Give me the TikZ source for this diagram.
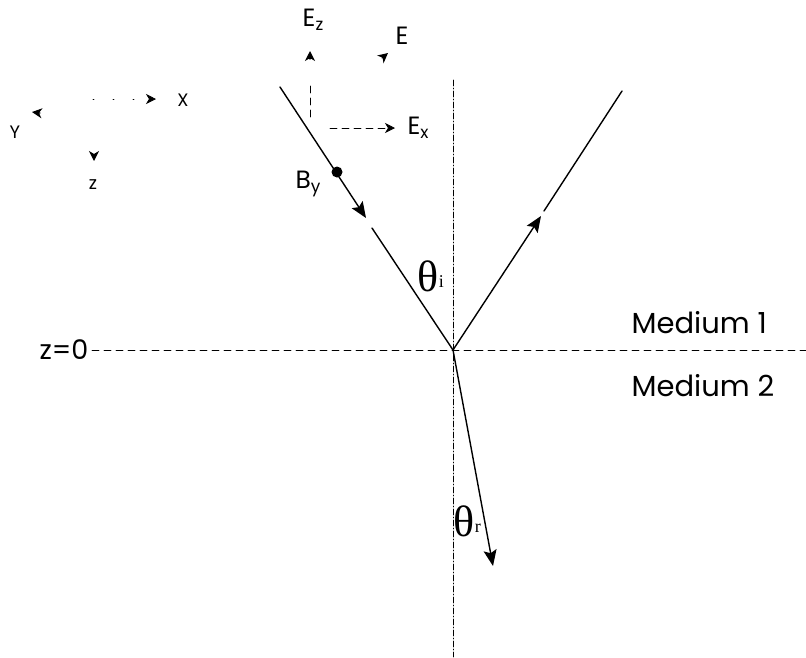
\documentclass[tikz,border=0pt]{standalone}
\usepackage{fontspec}
\setmainfont{Poppins}
\newfontfamily\griego{Liberation Serif}
\usetikzlibrary{arrows.meta}
\newcommand{\indice}[1]{\raisebox{-0.15em}{\fontsize{17}{17}\selectfont #1}}

\begin{document}
\begin{tikzpicture}[x=1pt, y=-1pt, line width=1.3pt, line cap=round,
    >={Stealth[length=16pt,width=13pt,inset=3pt]},
    punta/.style={-{Stealth[length=10pt,width=10pt,inset=3pt]}},
    rayo/.style={line width=1.4pt},
    guia/.style={line width=0.7pt, dash pattern=on 7pt off 5pt},
    normal/.style={line width=0.8pt, dash pattern=on 6pt off 2pt on 1pt off 2pt},
    etiqueta/.style={inner sep=0pt, font=\fontsize{29}{32}\selectfont},
    campo/.style={inner sep=0pt, font=\fontsize{25}{28}\selectfont},
    chica/.style={inner sep=0pt, font=\fontsize{18}{19}\selectfont},
    angulo/.style={inner sep=0pt, font=\griego\fontsize{44}{46}\selectfont},
    sub/.style={inner sep=0pt, anchor=south west, font=\griego\fontsize{18}{18}\selectfont}]
  \useasboundingbox (0,0) rectangle (806,657);
  % el punto de incidencia y la normal
  \coordinate (O) at (453,350);
  \coordinate (nArriba) at (453,80);
  \coordinate (nAbajo) at (453,657);
  \draw[normal] (nArriba) -- (nAbajo);
  % la frontera z=0
  \node[etiqueta, anchor=east, font=\fontsize{27}{30}\selectfont] (zcero) at (89,350) {z=0};
  \coordinate (fin) at (806,350);
  \draw[guia] (zcero.east) ++(3,0) -- (fin);
  \node[etiqueta, anchor=west] (med1) at (631,323) {Medium 1};
  \node[etiqueta, anchor=west] (med2) at (631,386) {Medium 2};
  % rayo incidente, con la flecha a medio camino
  \coordinate (inc0) at (280,87);
  \coordinate (inc1) at (366,218);
  \coordinate (inc2) at (372,228);
  \draw[rayo, ->] (inc0) -- (inc1);
  \draw[rayo] (inc2) -- (O);
  \node[angulo] (thi) at (428,276) {θ};
  \node[sub] at ([xshift=-1pt,yshift=4pt]thi.south east) {i};
  % rayo reflejado
  \coordinate (ref1) at (541,216);
  \coordinate (ref2) at (544,211);
  \coordinate (ref3) at (622,91);
  \draw[rayo, ->] (O) -- (ref1);
  \draw[rayo] (ref2) -- (ref3);
  % rayo transmitido
  \coordinate (tra) at (493,566);
  \draw[rayo, ->] (O) -- (tra);
  \node[angulo] (thr) at (464,521) {θ};
  \node[sub] at ([xshift=-1pt,yshift=4pt]thr.south east) {r};
  % los campos sobre el rayo incidente
  \fill (337,172) circle (5.5);
  \node[campo] (By) at (308,184) {B\indice{y}};
  \coordinate (ez0) at (310,117);
  \coordinate (ez1) at (310,86);
  \coordinate (ez2) at (310,51);
  \draw[guia] (ez0) -- (ez1);
  \draw[punta] (ez2) ++(0,8) -- (ez2);
  \node[campo] (Ez) at (313,20) {E\indice{z}};
  \coordinate (ex0) at (330,128);
  \coordinate (ex1) at (395,128);
  \draw[guia, punta] (ex0) -- (ex1);
  \node[campo] (Ex) at (418,128) {E\indice{x}};
  \coordinate (e1) at (388,53);
  \draw[punta] (e1) ++(-6,5) -- (e1);
  \node[campo] (E) at (402,36) {E};
  % los ejes
  \node[chica] (X) at (183,100) {X};
  \node[chica] (Y) at (15,132) {Y};
  \node[chica] (Z) at (93,185) {z};
  \coordinate (x0) at (93,99);
  \coordinate (x1) at (156,99);
  \draw[guia, punta, dash pattern=on 1pt off 19pt] (x0) -- (x1);
  \coordinate (y1) at (32,112);
  \draw[punta] (y1) ++(8,1) -- (y1);
  \coordinate (z1) at (94,161);
  \draw[punta] (z1) ++(0,-6) -- (z1);
\end{tikzpicture}
\end{document}
